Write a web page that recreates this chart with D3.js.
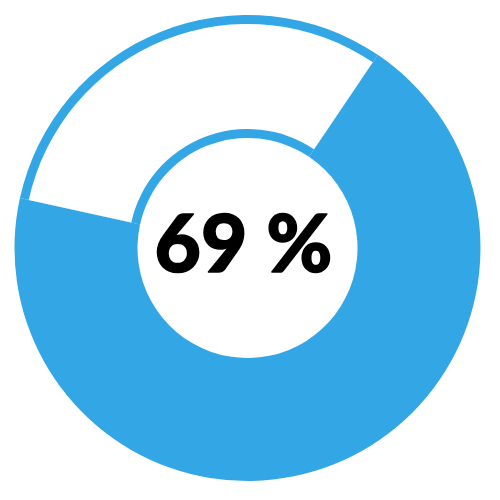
<!DOCTYPE html>
<html>
<head>
<meta charset="utf-8">
<script src="https://cdn.jsdelivr.net/npm/d3@7"></script>
<style>
  html, body { margin: 0; padding: 0; background: #fff; }
</style>
</head>
<body>
<div id="vis"></div>
<script>
// chart data
const categories = ['Done', 'Left'];
const values = [69, 31];
const label = values[0] + ' %';

const width = 500, height = 500;
const cx = 247.5, cy = 248;
const outerR = 233, innerR = 110, inset = 9;
const blue = '#33a6e6';
const rotate = 34 * Math.PI / 180;

const svg = d3.select('#vis')
  .append('svg')
  .attr('width', width)
  .attr('height', height);

const g = svg.append('g')
  .attr('transform', `translate(${cx},${cy})`);

const pie = d3.pie()
  .sort(null)
  .value(d => d.value)
  .startAngle(rotate)
  .endAngle(rotate + 2 * Math.PI);

const slices = pie(categories.map((c, i) => ({ name: c, value: values[i] })));

const ring = d3.arc().innerRadius(innerR).outerRadius(outerR);
const hollow = d3.arc().innerRadius(innerR + inset).outerRadius(outerR - inset);

// blue ring under every slice
g.selectAll('path.ring')
  .data(slices)
  .enter()
  .append('path')
  .attr('class', 'ring')
  .attr('d', ring)
  .attr('fill', blue);

// the remaining part is hollowed out, leaving a blue outline
g.selectAll('path.hollow')
  .data(slices.filter((d, i) => i > 0))
  .enter()
  .append('path')
  .attr('class', 'hollow')
  .attr('d', hollow)
  .attr('fill', '#fff');

// percentage in the middle
g.append('text')
  .attr('x', -4)
  .attr('y', 24)
  .attr('text-anchor', 'middle')
  .style('font-family', 'Lato, sans-serif')
  .style('font-weight', 900)
  .style('font-size', '80px')
  .attr('fill', '#000')
  .attr('stroke', '#000')
  .attr('stroke-width', 1.5)
  .attr('stroke-linejoin', 'round')
  .text(label);
</script>
</body>
</html>
